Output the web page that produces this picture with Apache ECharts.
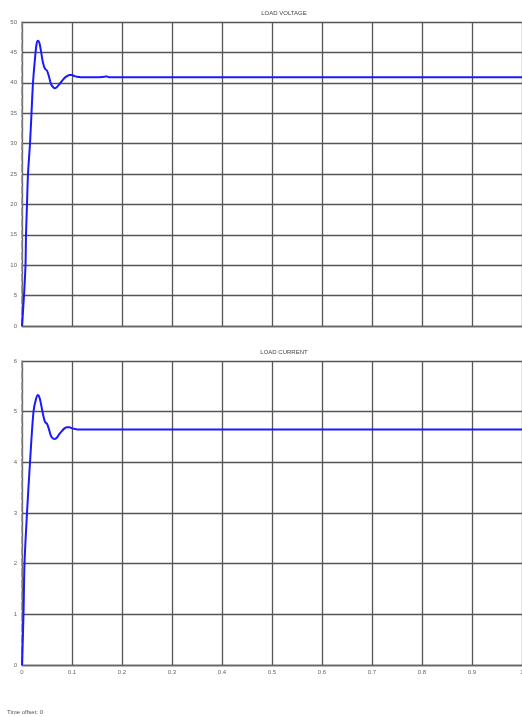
<!DOCTYPE html>
<html><head><meta charset="utf-8">
<script src="https://cdn.jsdelivr.net/npm/echarts@6/dist/echarts.min.js"></script>
<style>html,body{margin:0;padding:0;background:#fff}#c{width:522px;height:717px}</style>
</head><body><div id="c"></div>
<script>
// Time (s) and values
const timeV = [0, 0.004, 0.007, 0.008, 0.01, 0.012, 0.016, 0.019, 0.022, 0.026, 0.029, 0.032, 0.035, 0.038, 0.042, 0.046, 0.05, 0.054, 0.058, 0.062, 0.066, 0.07, 0.075, 0.08, 0.085, 0.09, 0.095, 0.1, 0.105, 0.11, 0.115, 0.12, 0.15, 0.165, 0.17, 0.175, 0.2, 0.5, 1.0];
const voltage = [0, 5, 10, 15, 20, 25, 30, 35, 40, 44, 46.3, 46.9, 46.5, 45.2, 43.3, 42.3, 42.0, 41.0, 39.8, 39.3, 39.1, 39.3, 39.8, 40.3, 40.8, 41.1, 41.3, 41.3, 41.1, 41.0, 40.95, 40.9, 40.9, 41.0, 41.05, 40.9, 40.9, 40.9, 40.9];
const timeI = [0, 0.003, 0.005, 0.01, 0.016, 0.023, 0.028, 0.032, 0.035, 0.038, 0.042, 0.046, 0.05, 0.054, 0.058, 0.062, 0.066, 0.07, 0.075, 0.08, 0.085, 0.09, 0.095, 0.1, 0.105, 0.11, 0.12, 0.15, 0.5, 1.0];
const current = [0, 1, 2, 3, 4, 5, 5.25, 5.33, 5.28, 5.15, 4.95, 4.8, 4.76, 4.65, 4.52, 4.47, 4.46, 4.49, 4.56, 4.62, 4.67, 4.69, 4.69, 4.67, 4.66, 4.65, 4.65, 4.65, 4.65, 4.65];
const xTicks = ['0', '0.1', '0.2', '0.3', '0.4', '0.5', '0.6', '0.7', '0.8', '0.9', '1'];
const titles = ['LOAD VOLTAGE', 'LOAD CURRENT'];
const footer = 'Time offset: 0';

const chart = echarts.init(document.getElementById('c'), null, {renderer: 'canvas'});
const lblStyle = {color: '#666', fontSize: 6, fontFamily: 'Liberation Sans'};
const gridLine = {show: true, lineStyle: {color: '#555', width: 1.3}};
function xAxis(idx, showLabels) {
  return {
    type: 'value', gridIndex: idx, min: 0, max: 1, interval: 0.1,
    axisLine: {show: true, lineStyle: {color: '#666', width: 1.3}},
    axisTick: {show: false},
    axisLabel: {show: showLabels, ...lblStyle, margin: 4, formatter: v => { const i = Math.round(v * 10); return xTicks[i]; }},
    splitLine: gridLine
  };
}
function yAxis(idx, max, interval) {
  return {
    type: 'value', gridIndex: idx, min: 0, max: max, interval: interval,
    axisLine: {show: true, lineStyle: {color: '#888', width: 1.5, type: [8, 3]}},
    axisTick: {show: false},
    axisLabel: {...lblStyle, margin: 5},
    splitLine: gridLine
  };
}
chart.setOption({
  animation: false,
  backgroundColor: '#fff',
  title: [
    {text: titles[0], left: 272, textAlign: 'center', top: 9, backgroundColor: '#fff', padding: [1, 12, 3, 12],
     textStyle: {fontSize: 6, fontWeight: 'normal', color: '#444', fontFamily: 'Liberation Sans'}},
    {text: titles[1], left: 272, textAlign: 'center', top: 348, backgroundColor: '#fff', padding: [1, 12, 3, 12],
     textStyle: {fontSize: 6, fontWeight: 'normal', color: '#444', fontFamily: 'Liberation Sans'}},
    {text: footer, left: 7, top: 709, padding: 0,
     textStyle: {fontSize: 6, fontWeight: 'normal', color: '#555', fontFamily: 'Liberation Sans'}}
  ],
  grid: [
    {left: 22, top: 22, width: 500, height: 304, outerBoundsMode: 'none', containLabel: false},
    {left: 22, top: 361, width: 500, height: 304, outerBoundsMode: 'none', containLabel: false}
  ],
  xAxis: [xAxis(0, false), xAxis(1, true)],
  yAxis: [yAxis(0, 50, 5), yAxis(1, 6, 1)],
  series: [
    {type: 'line', xAxisIndex: 0, yAxisIndex: 0, data: timeV.map((t, i) => [t, voltage[i]]),
     showSymbol: false, smooth: 0.3, lineStyle: {color: '#1a1aff', width: 2}, z: 5},
    {type: 'line', xAxisIndex: 1, yAxisIndex: 1, data: timeI.map((t, i) => [t, current[i]]),
     showSymbol: false, smooth: 0.3, lineStyle: {color: '#1a1aff', width: 2}, z: 5}
  ]
});
</script></body></html>
